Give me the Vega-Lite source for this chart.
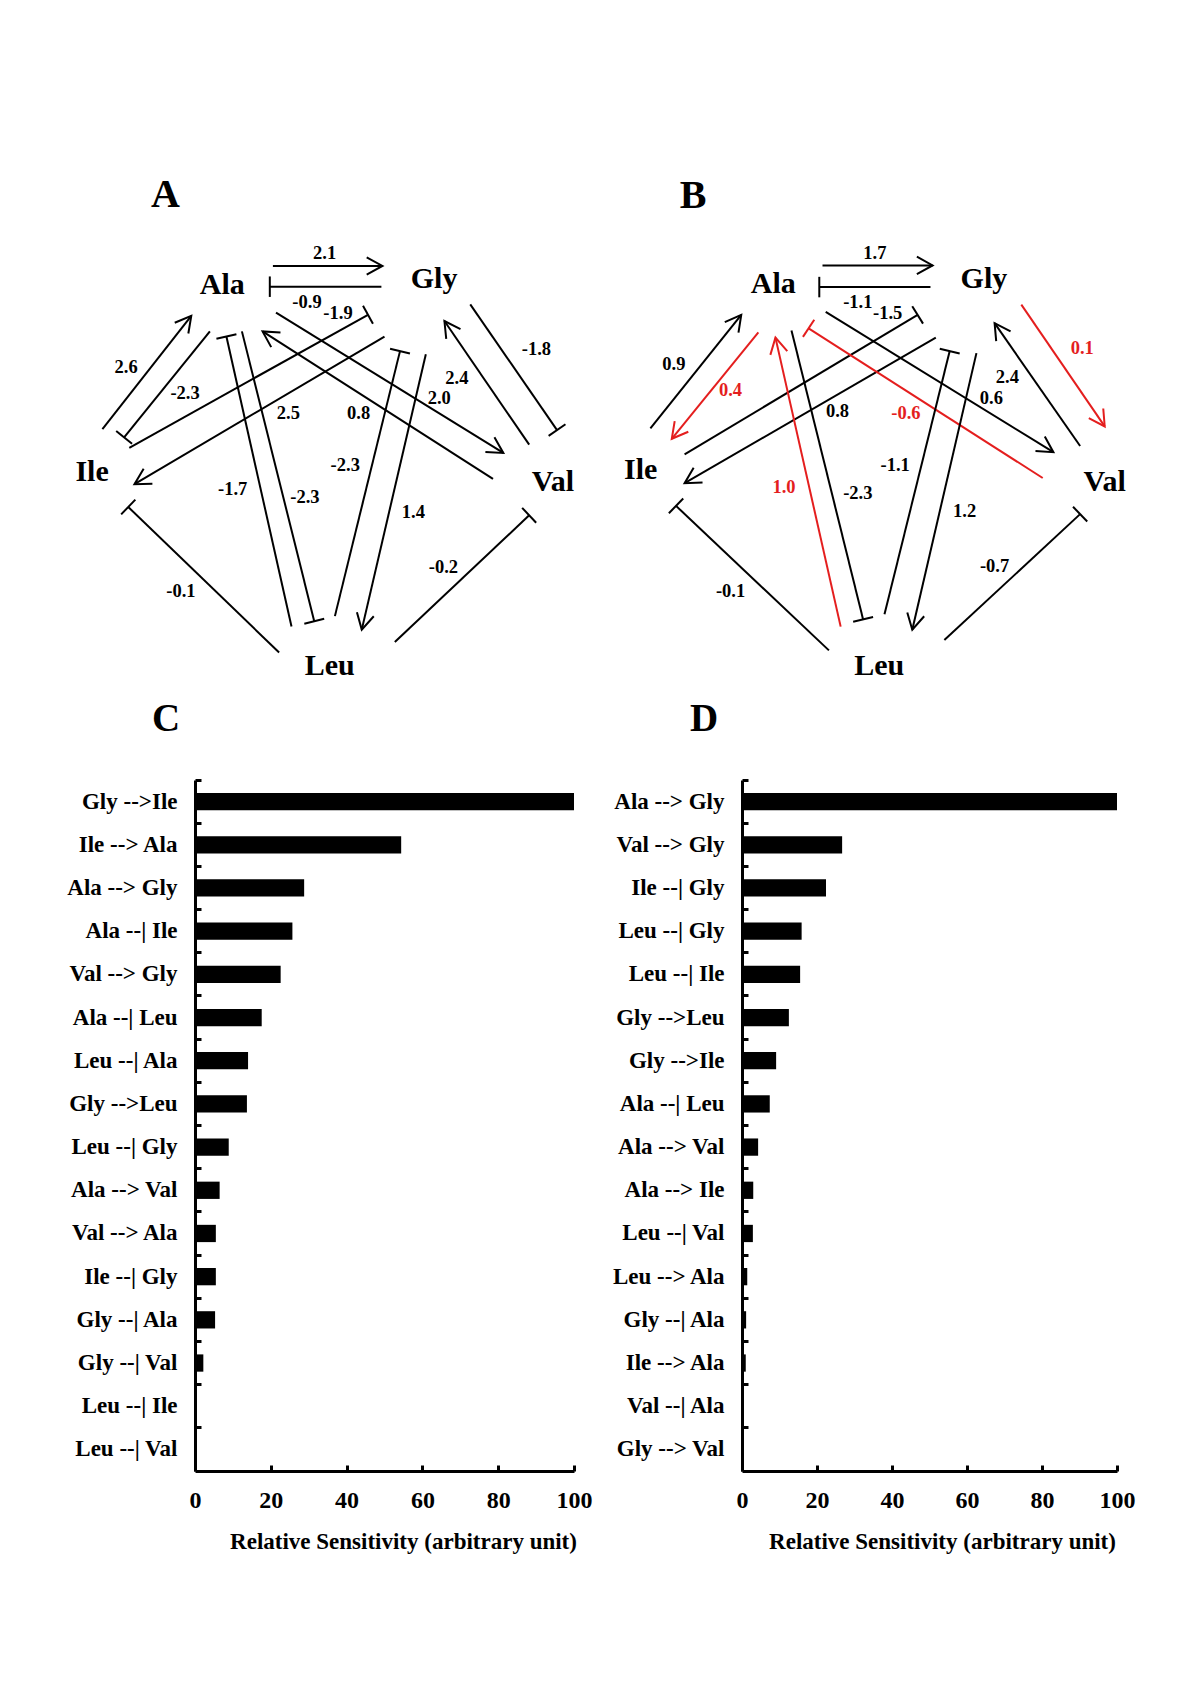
{
  "$schema": "https://vega.github.io/schema/vega-lite/v6.json",
  "background": "white",
  "padding": {"left": 66, "top": 150, "right": 10, "bottom": 10},
  "config": {
    "view": {"stroke": null},
    "font": "Liberation Serif",
    "axis": {"labelFont": "Liberation Serif", "labelFontWeight": "bold", "labelColor": "black", "titleFont": "Liberation Serif", "titleFontWeight": "bold", "titleColor": "black", "domainColor": "black", "tickColor": "black", "grid": false},
    "title": {"font": "Liberation Serif", "fontWeight": "bold", "color": "black"}
  },
  "datasets": {
    "edgesA": [
      {"type": "act", "w": "2.1", "hl": "no", "x1": 207, "y1": 115, "x2": 313, "y2": 115, "lx": 257, "ly": 103},
      {"type": "inh", "w": "-0.9", "hl": "no", "x1": 312, "y1": 135, "x2": 204, "y2": 135, "lx": 240, "ly": 150},
      {"type": "inh", "w": "-1.9", "hl": "no", "x1": 68, "y1": 290, "x2": 299, "y2": 162, "lx": 270, "ly": 160},
      {"type": "act", "w": "2.5", "hl": "no", "x1": 315, "y1": 183, "x2": 73, "y2": 325, "lx": 222, "ly": 257},
      {"type": "act", "w": "2.6", "hl": "no", "x1": 42, "y1": 272, "x2": 128, "y2": 163, "lx": 65, "ly": 212},
      {"type": "inh", "w": "-2.3", "hl": "no", "x1": 146, "y1": 178, "x2": 63, "y2": 280, "lx": 122, "ly": 237},
      {"type": "inh", "w": "-1.7", "hl": "no", "x1": 225, "y1": 462, "x2": 162, "y2": 183, "lx": 168, "ly": 330},
      {"type": "inh", "w": "-2.3", "hl": "no", "x1": 177, "y1": 178, "x2": 247, "y2": 457, "lx": 238, "ly": 337},
      {"type": "act", "w": "2.0", "hl": "no", "x1": 210, "y1": 160, "x2": 430, "y2": 295, "lx": 368, "ly": 242},
      {"type": "act", "w": "0.8", "hl": "no", "x1": 420, "y1": 320, "x2": 197, "y2": 178, "lx": 290, "ly": 257},
      {"type": "inh", "w": "-2.3", "hl": "no", "x1": 267, "y1": 452, "x2": 330, "y2": 197, "lx": 277, "ly": 307},
      {"type": "act", "w": "1.4", "hl": "no", "x1": 355, "y1": 200, "x2": 293, "y2": 465, "lx": 343, "ly": 352},
      {"type": "act", "w": "2.4", "hl": "no", "x1": 455, "y1": 287, "x2": 373, "y2": 168, "lx": 385, "ly": 223},
      {"type": "inh", "w": "-1.8", "hl": "no", "x1": 398, "y1": 152, "x2": 482, "y2": 273, "lx": 462, "ly": 195},
      {"type": "inh", "w": "-0.1", "hl": "no", "x1": 213, "y1": 487, "x2": 67, "y2": 347, "lx": 118, "ly": 428},
      {"type": "inh", "w": "-0.2", "hl": "no", "x1": 325, "y1": 477, "x2": 455, "y2": 355, "lx": 372, "ly": 405}
    ],
    "nodesA": [
      {"name": "Ala", "x": 158, "y": 133, "size": 30},
      {"name": "Gly", "x": 363, "y": 128, "size": 30},
      {"name": "Ile", "x": 32, "y": 313, "size": 30},
      {"name": "Val", "x": 478, "y": 323, "size": 30},
      {"name": "Leu", "x": 262, "y": 500, "size": 30},
      {"name": "A", "x": 103, "y": 47, "size": 40}
    ],
    "edgesB": [
      {"type": "act", "w": "1.7", "hl": "no", "x1": 209, "y1": 112, "x2": 312, "y2": 112, "lx": 258, "ly": 100},
      {"type": "inh", "w": "-1.1", "hl": "no", "x1": 310, "y1": 133, "x2": 206, "y2": 133, "lx": 242, "ly": 147},
      {"type": "inh", "w": "-1.5", "hl": "no", "x1": 80, "y1": 295, "x2": 298, "y2": 160, "lx": 270, "ly": 158},
      {"type": "act", "w": "0.8", "hl": "no", "x1": 315, "y1": 182, "x2": 80, "y2": 323, "lx": 223, "ly": 253},
      {"type": "act", "w": "0.9", "hl": "no", "x1": 48, "y1": 270, "x2": 133, "y2": 160, "lx": 70, "ly": 208},
      {"type": "act", "w": "0.4", "hl": "yes", "x1": 149, "y1": 177, "x2": 68, "y2": 280, "lx": 123, "ly": 233},
      {"type": "act", "w": "1.0", "hl": "yes", "x1": 226, "y1": 462, "x2": 165, "y2": 182, "lx": 173, "ly": 327},
      {"type": "inh", "w": "-2.3", "hl": "no", "x1": 180, "y1": 175, "x2": 247, "y2": 455, "lx": 242, "ly": 333},
      {"type": "act", "w": "0.6", "hl": "no", "x1": 212, "y1": 157, "x2": 425, "y2": 293, "lx": 367, "ly": 240},
      {"type": "inh", "w": "-0.6", "hl": "yes", "x1": 415, "y1": 318, "x2": 196, "y2": 173, "lx": 287, "ly": 255},
      {"type": "inh", "w": "-1.1", "hl": "no", "x1": 267, "y1": 450, "x2": 328, "y2": 195, "lx": 277, "ly": 305},
      {"type": "act", "w": "1.2", "hl": "no", "x1": 353, "y1": 197, "x2": 293, "y2": 465, "lx": 342, "ly": 350},
      {"type": "act", "w": "2.4", "hl": "no", "x1": 450, "y1": 287, "x2": 370, "y2": 168, "lx": 382, "ly": 220},
      {"type": "act", "w": "0.1", "hl": "yes", "x1": 395, "y1": 150, "x2": 473, "y2": 268, "lx": 452, "ly": 192},
      {"type": "inh", "w": "-0.1", "hl": "no", "x1": 215, "y1": 485, "x2": 72, "y2": 345, "lx": 123, "ly": 427},
      {"type": "inh", "w": "-0.7", "hl": "no", "x1": 323, "y1": 475, "x2": 450, "y2": 353, "lx": 370, "ly": 403}
    ],
    "nodesB": [
      {"name": "Ala", "x": 163, "y": 130, "size": 30},
      {"name": "Gly", "x": 360, "y": 125, "size": 30},
      {"name": "Ile", "x": 39, "y": 310, "size": 30},
      {"name": "Val", "x": 473, "y": 322, "size": 30},
      {"name": "Leu", "x": 262, "y": 500, "size": 30},
      {"name": "B", "x": 88, "y": 45, "size": 40}
    ],
    "barsC": [
      {"edge": "Gly -->Ile", "value": 100},
      {"edge": "Ile --> Ala", "value": 54.4},
      {"edge": "Ala --> Gly", "value": 28.8},
      {"edge": "Ala --| Ile", "value": 25.7},
      {"edge": "Val --> Gly", "value": 22.6},
      {"edge": "Ala --| Leu", "value": 17.6},
      {"edge": "Leu --| Ala", "value": 14.0},
      {"edge": "Gly -->Leu", "value": 13.7},
      {"edge": "Leu --| Gly", "value": 8.9},
      {"edge": "Ala --> Val", "value": 6.5},
      {"edge": "Val --> Ala", "value": 5.5},
      {"edge": "Ile --| Gly", "value": 5.5},
      {"edge": "Gly --| Ala", "value": 5.3},
      {"edge": "Gly --| Val", "value": 2.2},
      {"edge": "Leu --| Ile", "value": 0},
      {"edge": "Leu --| Val", "value": 0}
    ],
    "barsD": [
      {"edge": "Ala --> Gly", "value": 100},
      {"edge": "Val --> Gly", "value": 26.7},
      {"edge": "Ile --| Gly", "value": 22.4},
      {"edge": "Leu --| Gly", "value": 15.9},
      {"edge": "Leu --| Ile", "value": 15.5},
      {"edge": "Gly -->Leu", "value": 12.5},
      {"edge": "Gly -->Ile", "value": 9.1},
      {"edge": "Ala --| Leu", "value": 7.4},
      {"edge": "Ala --> Val", "value": 4.3},
      {"edge": "Ala --> Ile", "value": 3.0},
      {"edge": "Leu --| Val", "value": 2.9},
      {"edge": "Leu --> Ala", "value": 1.4},
      {"edge": "Gly --| Ala", "value": 1.1},
      {"edge": "Ile --> Ala", "value": 1.0},
      {"edge": "Val --| Ala", "value": 0.3},
      {"edge": "Gly --> Val", "value": 0}
    ]
  },
  "columns": 2,
  "spacing": {"row": 90, "column": 168},
  "bounds": "flush",
  "concat": [
    {
      "width": 379, "height": 540,
      "layer": [
        {
          "data": {"name": "edgesA"},
          "mark": {"type": "rule", "strokeWidth": 2},
          "encoding": {
            "x": {"field": "x1", "type": "quantitative", "scale": {"domain": [131.6, 498.4], "nice": false, "zero": false}, "axis": null},
            "y": {"field": "y1", "type": "quantitative", "scale": {"domain": [3.46, 523.1], "nice": false, "zero": false, "reverse": true}, "axis": null},
            "x2": {"field": "x2"},
            "y2": {"field": "y2"},
            "color": {"field": "hl", "type": "nominal", "scale": {"domain": ["no", "yes"], "range": ["black", "#e41e1e"]}, "legend": null}
          }
        },
        {
          "data": {"name": "edgesA"},
          "transform": [{"filter": "datum.type == 'act'"}, {"calculate": "atan2(datum.y2 - datum.y1, datum.x2 - datum.x1) * 180 / PI", "as": "ang"}],
          "mark": {"type": "point", "shape": "M-1,-0.55L0,0L-1,0.55", "filled": false, "strokeWidth": 2, "size": 990, "opacity": 1},
          "encoding": {
            "x": {"field": "x2", "type": "quantitative", "scale": {"domain": [131.6, 498.4], "nice": false, "zero": false}, "axis": null},
            "y": {"field": "y2", "type": "quantitative", "scale": {"domain": [3.46, 523.1], "nice": false, "zero": false, "reverse": true}, "axis": null},
            "angle": {"field": "ang", "type": "quantitative", "scale": null},
            "color": {"field": "hl", "type": "nominal", "scale": {"domain": ["no", "yes"], "range": ["black", "#e41e1e"]}, "legend": null}
          }
        },
        {
          "data": {"name": "edgesA"},
          "transform": [{"filter": "datum.type == 'inh'"}, {"calculate": "atan2(datum.y2 - datum.y1, datum.x2 - datum.x1) * 180 / PI", "as": "ang"}],
          "mark": {"type": "point", "shape": "M0,-1L0,1", "filled": false, "strokeWidth": 2, "size": 420, "opacity": 1},
          "encoding": {
            "x": {"field": "x2", "type": "quantitative", "scale": {"domain": [131.6, 498.4], "nice": false, "zero": false}, "axis": null},
            "y": {"field": "y2", "type": "quantitative", "scale": {"domain": [3.46, 523.1], "nice": false, "zero": false, "reverse": true}, "axis": null},
            "angle": {"field": "ang", "type": "quantitative", "scale": null},
            "color": {"field": "hl", "type": "nominal", "scale": {"domain": ["no", "yes"], "range": ["black", "#e41e1e"]}, "legend": null}
          }
        },
        {
          "data": {"name": "edgesA"},
          "mark": {"type": "text", "fontSize": 18.5, "fontWeight": "bold", "font": "Liberation Serif", "baseline": "middle", "align": "center"},
          "encoding": {
            "x": {"field": "lx", "type": "quantitative", "scale": {"domain": [131.6, 498.4], "nice": false, "zero": false}, "axis": null},
            "y": {"field": "ly", "type": "quantitative", "scale": {"domain": [3.46, 523.1], "nice": false, "zero": false, "reverse": true}, "axis": null},
            "text": {"field": "w"},
            "color": {"field": "hl", "type": "nominal", "scale": {"domain": ["no", "yes"], "range": ["black", "#e41e1e"]}, "legend": null}
          }
        },
        {
          "data": {"name": "nodesA"},
          "mark": {"type": "text", "fontWeight": "bold", "font": "Liberation Serif", "baseline": "middle", "align": "center", "color": "black"},
          "encoding": {
            "x": {"field": "x", "type": "quantitative", "scale": {"domain": [131.6, 498.4], "nice": false, "zero": false}, "axis": null},
            "y": {"field": "y", "type": "quantitative", "scale": {"domain": [3.46, 523.1], "nice": false, "zero": false, "reverse": true}, "axis": null},
            "text": {"field": "name"},
            "size": {"field": "size", "type": "quantitative", "scale": null}
          }
        }
      ]
    },
    {
      "width": 375, "height": 540,
      "layer": [
        {
          "data": {"name": "edgesB"},
          "mark": {"type": "rule", "strokeWidth": 2},
          "encoding": {
            "x": {"field": "x1", "type": "quantitative", "scale": {"domain": [133.7, 484.5], "nice": false, "zero": false}, "axis": null},
            "y": {"field": "y1", "type": "quantitative", "scale": {"domain": [0.19, 523.4], "nice": false, "zero": false, "reverse": true}, "axis": null},
            "x2": {"field": "x2"},
            "y2": {"field": "y2"},
            "color": {"field": "hl", "type": "nominal", "scale": {"domain": ["no", "yes"], "range": ["black", "#e41e1e"]}, "legend": null}
          }
        },
        {
          "data": {"name": "edgesB"},
          "transform": [{"filter": "datum.type == 'act'"}, {"calculate": "atan2(datum.y2 - datum.y1, datum.x2 - datum.x1) * 180 / PI", "as": "ang"}],
          "mark": {"type": "point", "shape": "M-1,-0.55L0,0L-1,0.55", "filled": false, "strokeWidth": 2, "size": 990, "opacity": 1},
          "encoding": {
            "x": {"field": "x2", "type": "quantitative", "scale": {"domain": [133.7, 484.5], "nice": false, "zero": false}, "axis": null},
            "y": {"field": "y2", "type": "quantitative", "scale": {"domain": [0.19, 523.4], "nice": false, "zero": false, "reverse": true}, "axis": null},
            "angle": {"field": "ang", "type": "quantitative", "scale": null},
            "color": {"field": "hl", "type": "nominal", "scale": {"domain": ["no", "yes"], "range": ["black", "#e41e1e"]}, "legend": null}
          }
        },
        {
          "data": {"name": "edgesB"},
          "transform": [{"filter": "datum.type == 'inh'"}, {"calculate": "atan2(datum.y2 - datum.y1, datum.x2 - datum.x1) * 180 / PI", "as": "ang"}],
          "mark": {"type": "point", "shape": "M0,-1L0,1", "filled": false, "strokeWidth": 2, "size": 420, "opacity": 1},
          "encoding": {
            "x": {"field": "x2", "type": "quantitative", "scale": {"domain": [133.7, 484.5], "nice": false, "zero": false}, "axis": null},
            "y": {"field": "y2", "type": "quantitative", "scale": {"domain": [0.19, 523.4], "nice": false, "zero": false, "reverse": true}, "axis": null},
            "angle": {"field": "ang", "type": "quantitative", "scale": null},
            "color": {"field": "hl", "type": "nominal", "scale": {"domain": ["no", "yes"], "range": ["black", "#e41e1e"]}, "legend": null}
          }
        },
        {
          "data": {"name": "edgesB"},
          "mark": {"type": "text", "fontSize": 18.5, "fontWeight": "bold", "font": "Liberation Serif", "baseline": "middle", "align": "center"},
          "encoding": {
            "x": {"field": "lx", "type": "quantitative", "scale": {"domain": [133.7, 484.5], "nice": false, "zero": false}, "axis": null},
            "y": {"field": "ly", "type": "quantitative", "scale": {"domain": [0.19, 523.4], "nice": false, "zero": false, "reverse": true}, "axis": null},
            "text": {"field": "w"},
            "color": {"field": "hl", "type": "nominal", "scale": {"domain": ["no", "yes"], "range": ["black", "#e41e1e"]}, "legend": null}
          }
        },
        {
          "data": {"name": "nodesB"},
          "mark": {"type": "text", "fontWeight": "bold", "font": "Liberation Serif", "baseline": "middle", "align": "center", "color": "black"},
          "encoding": {
            "x": {"field": "x", "type": "quantitative", "scale": {"domain": [133.7, 484.5], "nice": false, "zero": false}, "axis": null},
            "y": {"field": "y", "type": "quantitative", "scale": {"domain": [0.19, 523.4], "nice": false, "zero": false, "reverse": true}, "axis": null},
            "text": {"field": "name"},
            "size": {"field": "size", "type": "quantitative", "scale": null}
          }
        }
      ]
    },
    {
      "width": 379, "height": 691,
      "data": {"name": "barsC"},
      "title": {"text": "C", "anchor": "start", "frame": "group", "fontSize": 39, "dx": -43, "offset": 40},
      "mark": {"type": "bar", "color": "black", "height": {"band": 0.4}},
      "encoding": {
        "y": {"field": "edge", "type": "nominal", "sort": null, "scale": {"paddingInner": 0, "paddingOuter": 0},
              "axis": {"title": null, "labelFontSize": 23, "bandPosition": 0, "tickSize": -6, "tickWidth": 3, "domainWidth": 3, "labelPadding": 24}},
        "x": {"field": "value", "type": "quantitative", "scale": {"domain": [0, 100], "nice": false},
              "axis": {"values": [0, 20, 40, 60, 80, 100], "labelFlush": false, "title": "Relative Sensitivity (arbitrary unit)", "titleFontSize": 23, "titleX": 208, "titlePadding": 18, "labelFontSize": 24, "tickSize": -6, "tickWidth": 3, "domainWidth": 3, "labelPadding": 23}}
      }
    },
    {
      "width": 375, "height": 691,
      "data": {"name": "barsD"},
      "title": {"text": "D", "anchor": "start", "frame": "group", "fontSize": 39, "dx": -52, "offset": 40},
      "mark": {"type": "bar", "color": "black", "height": {"band": 0.4}},
      "encoding": {
        "y": {"field": "edge", "type": "nominal", "sort": null, "scale": {"paddingInner": 0, "paddingOuter": 0},
              "axis": {"title": null, "labelFontSize": 23, "bandPosition": 0, "tickSize": -6, "tickWidth": 3, "domainWidth": 3, "labelPadding": 24}},
        "x": {"field": "value", "type": "quantitative", "scale": {"domain": [0, 100], "nice": false},
              "axis": {"values": [0, 20, 40, 60, 80, 100], "labelFlush": false, "title": "Relative Sensitivity (arbitrary unit)", "titleFontSize": 23, "titleX": 200, "titlePadding": 18, "labelFontSize": 24, "tickSize": -6, "tickWidth": 3, "domainWidth": 3, "labelPadding": 23}}
      }
    }
  ]
}
